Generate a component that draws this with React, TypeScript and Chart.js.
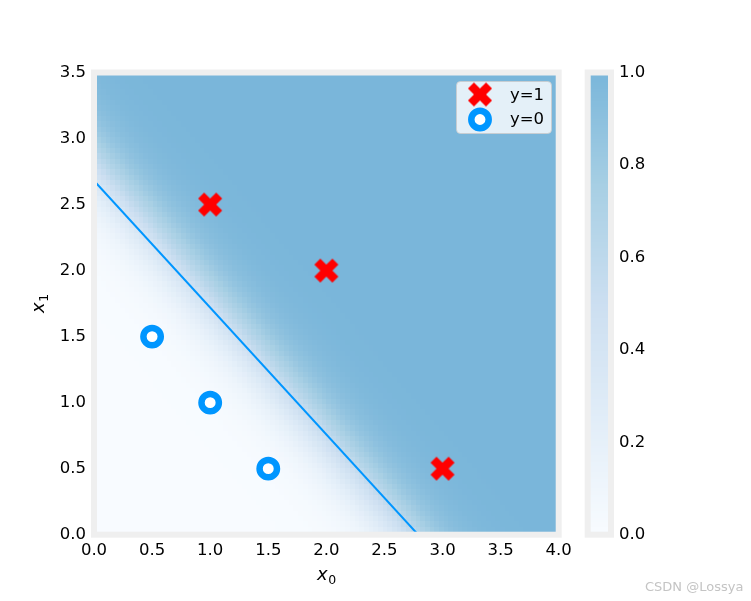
import React, { useEffect, useRef } from "react";
import { Chart, registerables } from "chart.js";

Chart.register(...registerables);

// ---- data ----
const posX = [1, 2, 3];
const posY = [2.5, 2, 0.5];
const negX = [0.5, 1, 1.5];
const negY = [1.5, 1, 0.5];
const boundaryX = [0, 2.79];
const boundaryY = [2.68, 0];
const weights = [5.28, 5.08];
const bias = -14.22;
const gridCount = 100;
const gridMax = 4;
const xTicks = [0, 0.5, 1, 1.5, 2, 2.5, 3, 3.5, 4];
const yTicks = [0, 0.5, 1, 1.5, 2, 2.5, 3, 3.5];
const cbTicks = [0, 0.2, 0.4, 0.6, 0.8, 1.0];
const legendLabels = ["y=1", "y=0"];
// Blues colormap truncated to [0, 0.5]
const bluesStops = [
  [247, 251, 255],
  [222, 235, 247],
  [198, 219, 239],
  [158, 202, 225],
  [107, 174, 214],
];
const heatAlpha = 0.9;

const FONT = "DejaVu Sans";
const FS = 16.5;
const RED = "#ff0000";
const BLUE = "#0096ff";
const FRAME = "#efefef";

function cmap(v: number): string {
  const t = Math.max(0, Math.min(1, v)) * (bluesStops.length - 1);
  const i = Math.min(Math.floor(t), bluesStops.length - 2);
  const f = t - i;
  const c = [0, 1, 2].map((k) => {
    const raw = bluesStops[i][k] * (1 - f) + bluesStops[i + 1][k] * f;
    return Math.round(raw * heatAlpha + 255 * (1 - heatAlpha));
  });
  return `rgb(${c[0]},${c[1]},${c[2]})`;
}

function sigmoid(z: number) {
  return 1 / (1 + Math.exp(-z));
}

function makeXMarker(size: number): HTMLCanvasElement {
  const c = document.createElement("canvas");
  const dim = Math.ceil(size * 1.0) + 2;
  c.width = dim;
  c.height = dim;
  const g = c.getContext("2d")!;
  const base = [
    [-1, -3], [-1, -1], [-3, -1], [-3, 1], [-1, 1], [-1, 3],
    [1, 3], [1, 1], [3, 1], [3, -1], [1, -1], [1, -3],
  ];
  const a = Math.PI / 4;
  g.translate(dim / 2, dim / 2);
  g.beginPath();
  base.forEach(([px, py], idx) => {
    const sx = (px / 6) * size;
    const sy = (py / 6) * size;
    const rx = sx * Math.cos(a) - sy * Math.sin(a);
    const ry = sx * Math.sin(a) + sy * Math.cos(a);
    if (idx === 0) g.moveTo(rx, ry);
    else g.lineTo(rx, ry);
  });
  g.closePath();
  g.fillStyle = RED;
  g.fill();
  return c;
}

function drawSubLabel(ctx: CanvasRenderingContext2D, main: string, sub: string, cx: number, baseY: number) {
  ctx.font = `italic 18px ${FONT}`;
  const w1 = ctx.measureText(main).width;
  ctx.font = `12.5px ${FONT}`;
  const w2 = ctx.measureText(sub).width;
  const start = cx - (w1 + w2) / 2;
  ctx.fillStyle = "#000";
  ctx.textBaseline = "alphabetic";
  ctx.textAlign = "left";
  ctx.font = `italic 18px ${FONT}`;
  ctx.fillText(main, start, baseY);
  ctx.font = `12.5px ${FONT}`;
  ctx.fillText(sub, start + w1 + 0.5, baseY + 3.5);
}

export default function App() {
  const mainRef = useRef<HTMLCanvasElement>(null);
  const cbRef = useRef<HTMLCanvasElement>(null);

  useEffect(() => {
    const xMarker = makeXMarker(25.5);

    const heatPlugin = {
      id: "heat",
      beforeDatasetsDraw(chart: any) {
        const { ctx, chartArea, scales } = chart;
        const xs = scales.x;
        const ys = scales.y;
        ctx.save();
        ctx.beginPath();
        ctx.rect(chartArea.left, chartArea.top, chartArea.right - chartArea.left, chartArea.bottom - chartArea.top);
        ctx.clip();
        const d = gridMax / (gridCount - 1);
        for (let i = 0; i < gridCount; i++) {
          const gx = i * d;
          const px0 = Math.round(xs.getPixelForValue(gx - d / 2));
          const px1 = Math.round(xs.getPixelForValue(gx + d / 2));
          for (let j = 0; j < gridCount; j++) {
            const gy = j * d;
            const py0 = Math.round(ys.getPixelForValue(gy + d / 2));
            const py1 = Math.round(ys.getPixelForValue(gy - d / 2));
            const z = sigmoid(weights[0] * gx + weights[1] * gy + bias);
            ctx.fillStyle = cmap(z);
            ctx.fillRect(px0, py0, px1 - px0, py1 - py0);
          }
        }
        ctx.restore();
      },
      afterDatasetsDraw(chart: any) {
        const { ctx, chartArea } = chart;
        ctx.save();
        ctx.strokeStyle = FRAME;
        ctx.lineWidth = 6;
        ctx.strokeRect(chartArea.left, chartArea.top, chartArea.right - chartArea.left, chartArea.bottom - chartArea.top);
        ctx.restore();
      },
      afterDraw(chart: any) {
        const { ctx, chartArea } = chart;
        ctx.save();
        // legend box
        const bx = 456.5, by = 81.5, bw = 95, bh = 52, r = 4;
        ctx.beginPath();
        ctx.moveTo(bx + r, by);
        ctx.arcTo(bx + bw, by, bx + bw, by + bh, r);
        ctx.arcTo(bx + bw, by + bh, bx, by + bh, r);
        ctx.arcTo(bx, by + bh, bx, by, r);
        ctx.arcTo(bx, by, bx + bw, by, r);
        ctx.closePath();
        ctx.fillStyle = "rgba(255,255,255,0.8)";
        ctx.fill();
        ctx.strokeStyle = "rgba(204,204,204,0.8)";
        ctx.lineWidth = 1;
        ctx.stroke();
        // markers
        ctx.drawImage(xMarker, 480 - xMarker.width / 2, 94.5 - xMarker.height / 2);
        ctx.beginPath();
        ctx.arc(480, 119.5, 8.7, 0, Math.PI * 2);
        ctx.fillStyle = "#fff";
        ctx.fill();
        ctx.lineWidth = 6.5;
        ctx.strokeStyle = BLUE;
        ctx.stroke();
        ctx.fillStyle = "#000";
        ctx.font = `${FS}px ${FONT}`;
        ctx.textBaseline = "middle";
        ctx.textAlign = "left";
        ctx.fillText(legendLabels[0], 510, 95.5);
        ctx.fillText(legendLabels[1], 510, 120);
        // axis titles
        const cx = (chartArea.left + chartArea.right) / 2;
        drawSubLabel(ctx, "x", "0", cx, 580);
        const cy = (chartArea.top + chartArea.bottom) / 2;
        ctx.translate(44, cy);
        ctx.rotate(-Math.PI / 2);
        drawSubLabel(ctx, "x", "1", 0, 0);
        ctx.restore();
      },
    };

    const main = new Chart(mainRef.current!, {
      type: "scatter",
      data: {
        datasets: [
          {
            label: legendLabels[0],
            data: posX.map((v, i) => ({ x: v, y: posY[i] })),
            pointStyle: xMarker as any,
            pointRadius: 12,
          },
          {
            label: legendLabels[1],
            data: negX.map((v, i) => ({ x: v, y: negY[i] })),
            pointStyle: "circle",
            pointRadius: 8.7,
            borderWidth: 6.5,
            borderColor: BLUE,
            backgroundColor: "#ffffff",
          },
          {
            label: "boundary",
            data: boundaryX.map((v, i) => ({ x: v, y: boundaryY[i] })),
            showLine: true,
            pointRadius: 0,
            borderColor: BLUE,
            borderWidth: 2,
          } as any,
        ],
      },
      options: {
        animation: false,
        responsive: false,
        maintainAspectRatio: false,
        layout: { padding: { left: 0, right: 192.3, top: 72.5, bottom: 0 } },
        plugins: { legend: { display: false }, tooltip: { enabled: false } },
        scales: {
          x: {
            type: "linear",
            min: 0,
            max: 4,
            grid: { display: false, drawTicks: false },
            border: { display: false },
            afterBuildTicks: (s: any) => {
              s.ticks = xTicks.map((v) => ({ value: v }));
            },
            afterFit: (s: any) => {
              s.height = 66.3;
            },
            ticks: {
              padding: 6,
              color: "#000",
              font: { family: FONT, size: FS },
              maxRotation: 0,
              autoSkip: false,
              callback: (v: any) => Number(v).toFixed(1),
            },
          },
          y: {
            type: "linear",
            min: 0,
            max: 3.5,
            grid: { display: false, drawTicks: false },
            border: { display: false },
            afterBuildTicks: (s: any) => {
              s.ticks = yTicks.map((v) => ({ value: v }));
            },
            afterFit: (s: any) => {
              s.width = 94;
            },
            ticks: {
              padding: 8,
              color: "#000",
              font: { family: FONT, size: FS },
              autoSkip: false,
              callback: (v: any) => Number(v).toFixed(1),
            },
          },
        },
      },
      plugins: [heatPlugin],
    });

    const cbPlugin = {
      id: "cb",
      beforeDatasetsDraw(chart: any) {
        const { ctx, chartArea, scales } = chart;
        const ys = scales.y;
        const n = 256;
        ctx.save();
        for (let k = 0; k < n; k++) {
          const v0 = k / n;
          const v1 = (k + 1) / n;
          const p0 = Math.round(ys.getPixelForValue(v1));
          const p1 = Math.round(ys.getPixelForValue(v0));
          ctx.fillStyle = cmap((v0 + v1) / 2);
          ctx.fillRect(chartArea.left, p0, chartArea.right - chartArea.left, p1 - p0);
        }
        ctx.strokeStyle = FRAME;
        ctx.lineWidth = 6;
        ctx.strokeRect(chartArea.left, chartArea.top, chartArea.right - chartArea.left, chartArea.bottom - chartArea.top);
        ctx.restore();
      },
    };

    const cb = new Chart(cbRef.current!, {
      type: "scatter",
      data: { datasets: [{ data: [] }] },
      options: {
        animation: false,
        responsive: false,
        maintainAspectRatio: false,
        layout: { padding: { left: 27.7, right: 0, top: 72.5, bottom: 0 } },
        plugins: { legend: { display: false }, tooltip: { enabled: false } },
        scales: {
          x: {
            type: "linear",
            min: 0,
            max: 1,
            display: true,
            grid: { display: false, drawTicks: false },
            border: { display: false },
            ticks: { display: false },
            afterFit: (s: any) => {
              s.height = 66.3;
            },
          },
          y: {
            type: "linear",
            position: "right",
            min: 0,
            max: 1,
            grid: { display: false, drawTicks: false },
            border: { display: false },
            afterBuildTicks: (s: any) => {
              s.ticks = cbTicks.map((v) => ({ value: v }));
            },
            afterFit: (s: any) => {
              s.width = 140;
            },
            ticks: {
              padding: 8,
              color: "#000",
              font: { family: FONT, size: FS },
              autoSkip: false,
              callback: (v: any) => Number(v).toFixed(1),
            },
          },
        },
      },
      plugins: [cbPlugin],
    });

    return () => {
      main.destroy();
      cb.destroy();
    };
  }, []);

  return (
    <div style={{ position: "absolute", left: 0, top: 0, width: 751, height: 601, background: "#fff", overflow: "hidden" }}>
      <canvas ref={mainRef} width={751} height={601} style={{ position: "absolute", left: 0, top: 0, width: 751, height: 601 }} />
      <canvas ref={cbRef} width={191} height={601} style={{ position: "absolute", left: 560, top: 0, width: 191, height: 601 }} />
      <div style={{ position: "absolute", left: 645, top: 579, fontFamily: `"${FONT}", sans-serif`, fontSize: 13, color: "#c4c4c4", whiteSpace: "nowrap" }}>
        CSDN @Lossya
      </div>
    </div>
  );
}
